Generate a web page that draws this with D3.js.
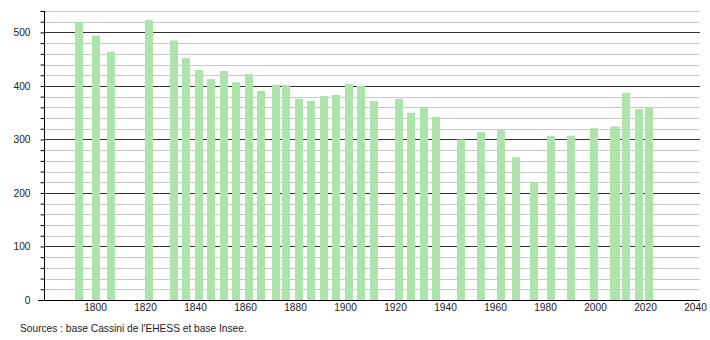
<!DOCTYPE html>
<html>
<head>
<meta charset="utf-8">
<script src="https://cdn.jsdelivr.net/npm/d3@7"></script>
<style>
  body { margin: 0; background: #fff; }
  svg { font-family: "Liberation Sans", Arial, sans-serif; }
</style>
</head>
<body>
<svg width="710" height="340"></svg>
<script>
// census years and population
const years = [1793, 1800, 1806, 1821, 1831, 1836, 1841, 1846, 1851, 1856, 1861, 1866, 1872, 1876,
  1881, 1886, 1891, 1896, 1901, 1906, 1911, 1921, 1926, 1931, 1936, 1946, 1954, 1962, 1968,
  1975, 1982, 1990, 1999, 2007, 2008, 2012, 2017, 2021];
const population = [520, 494, 464, 523, 485, 452, 430, 413, 428, 407, 422, 391, 402, 402,
  376, 372, 381, 383, 404, 400, 372, 376, 350, 359, 342, 300, 314, 319, 267,
  220, 307, 307, 321, 324, 324, 387, 357, 360];
const xTicks = [1800, 1820, 1840, 1860, 1880, 1900, 1920, 1940, 1960, 1980, 2000, 2020, 2040];
const yTicks = [0, 100, 200, 300, 400, 500];
const source = "Sources : base Cassini de l'EHESS et base Insee.";

const svg = d3.select('svg');
const fontSize = '10.2px';

const x = d3.scaleLinear().domain([1780, 2040]).range([45, 695]);
const y = d3.scaleLinear().domain([0, 540]).range([300, 11]);

// minor grid every 20
svg.append('g')
  .selectAll('line')
  .data(d3.range(20, 541, 20).filter(v => v % 100 !== 0))
  .enter().append('line')
  .attr('x1', 44).attr('x2', 700)
  .attr('y1', d => Math.round(y(d)) + 0.5).attr('y2', d => Math.round(y(d)) + 0.5)
  .attr('stroke', '#c8c8c8');

// major grid every 100
svg.append('g')
  .selectAll('line')
  .data(yTicks.filter(v => v > 0))
  .enter().append('line')
  .attr('x1', 44).attr('x2', 700)
  .attr('y1', d => Math.round(y(d)) + 0.5).attr('y2', d => Math.round(y(d)) + 0.5)
  .attr('stroke', '#333');

// bars, over the grid
svg.append('g')
  .selectAll('rect')
  .data(years)
  .enter().append('rect')
  .attr('x', d => Math.round(x(d) - 3))
  .attr('width', 8)
  .attr('y', (d, i) => y(population[i]))
  .attr('height', (d, i) => 300 - y(population[i]))
  .attr('fill', '#ade4ab');

// y axis
const yAxis = svg.append('g')
  .attr('transform', 'translate(44.5,0)')
  .call(d3.axisLeft(y).tickValues(d3.range(0, 541, 20)).tickSize(4).tickFormat(d => yTicks.includes(d) ? d : ''));
yAxis.select('.domain').attr('d', 'M0,' + y(540) + 'V300').attr('stroke', '#000');
yAxis.selectAll('.tick line').attr('stroke', '#000');
yAxis.selectAll('.tick text').attr('x', -14).attr('fill', '#222').style('font-size', fontSize)
  .style('font-family', '"Liberation Sans", Arial, sans-serif');

// x axis
svg.append('line')
  .attr('x1', 38).attr('x2', 700)
  .attr('y1', 300.5).attr('y2', 300.5)
  .attr('stroke', '#000');

const xAxis = svg.append('g')
  .attr('transform', 'translate(0,300)')
  .call(d3.axisBottom(x).tickValues(xTicks).tickSize(0).tickPadding(4).tickFormat(d3.format('d')));
xAxis.select('.domain').remove();
xAxis.selectAll('.tick text').attr('fill', '#222').style('font-size', fontSize)
  .style('font-family', '"Liberation Sans", Arial, sans-serif');

svg.append('text')
  .attr('x', 20).attr('y', 332)
  .attr('fill', '#222')
  .style('font-size', fontSize)
  .text(source);
</script>
</body>
</html>
